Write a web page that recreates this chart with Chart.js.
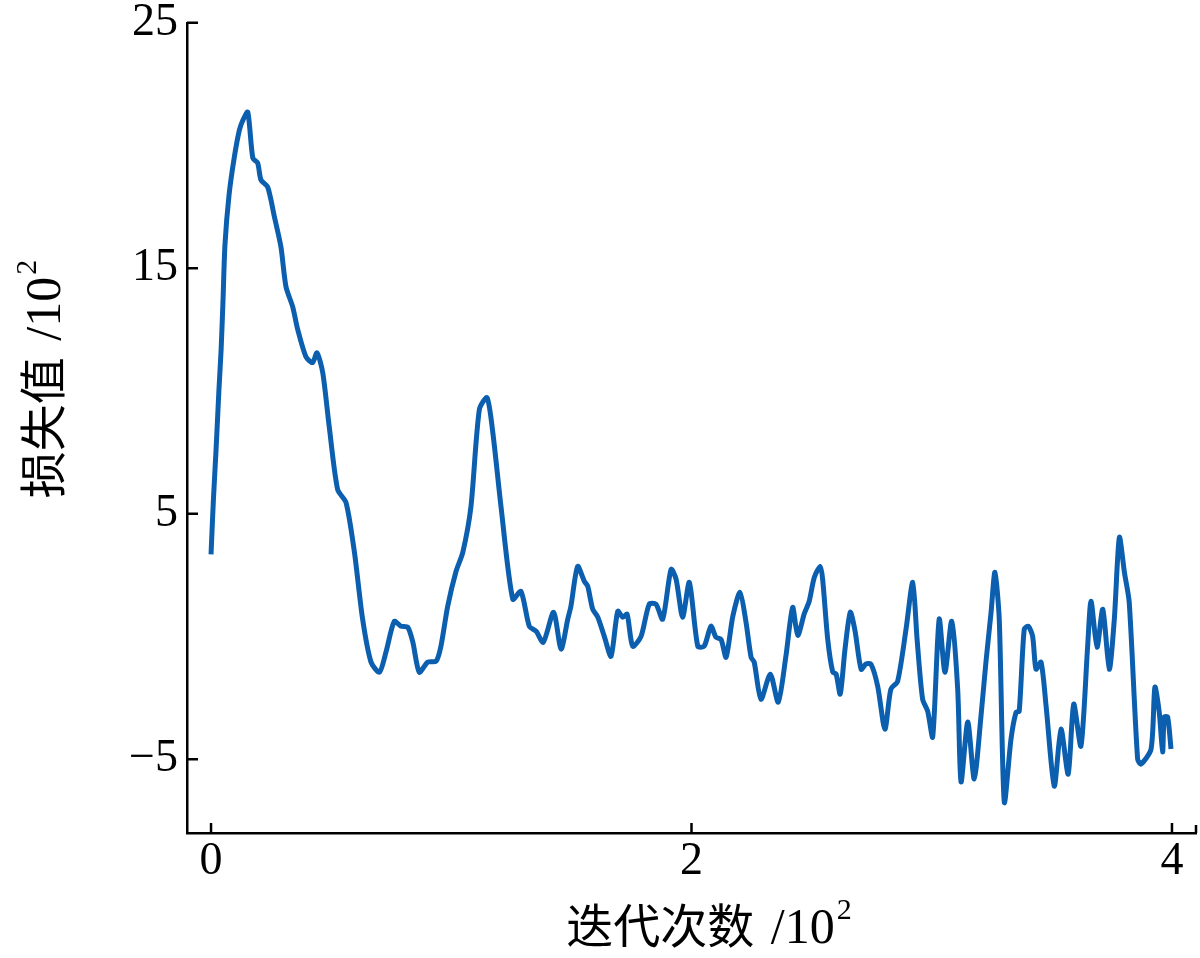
<!DOCTYPE html>
<html>
<head>
<meta charset="utf-8">
<script src="https://cdn.jsdelivr.net/npm/chart.js@4/dist/chart.umd.min.js"></script>
<style>
  body { margin: 0; background: #fff; }
  #wrap { width: 1200px; height: 958px; }
</style>
</head>
<body>
<div id="wrap"><canvas id="myChart" width="1200" height="958"></canvas></div>
<script>
// iterations (x axis shown in units of 10^2)
const iterations = [0,1,2.1,3.3,4.2,5,5.8,7.5,9.7,11.8,
  13.3,15.3,17.4,19.4,20.8,23.6,26.4,29.1,31.2,34,
  36.1,39.5,42.3,44.1,46.5,49.2,52.7,56.2,59.7,63.1,
  66.6,70.1,72.8,76.3,79.1,81.9,84,86.7,90.2,93.7,
  95.7,98.5,102,104.8,108.2,111.7,114.9,117.3,120.7,125.6,
  129,132.5,135.3,138.3,142.6,145.7,148.5,149.8,152.6,155.4,
  156.8,158.9,161,163.7,166.5,169.3,171.4,173.2,175.5,179,
  182.4,185.2,188,191.5,193.6,196.3,199.1,202.6,205.3,208.1,
  210.2,212.3,214.4,217.2,220.2,222.7,224.8,226.1,228.9,232.8,
  236.1,239.3,242.1,244.2,247,249,251.1,253.6,254.6,256.7,
  258.8,260.2,261.9,263.9,266.1,268.1,270.6,272.6,274.7,277.5,
  280.5,283,285.8,289.3,292.1,293.9,296.2,298.3,300.4,303.1,
  305.5,308.3,310.8,312.2,315,317.7,320.5,322.6,324.7,326.3,
  328.1,330.2,333,335.1,336.4,338.5,340.2,342,343.4,345.5,
  347.6,351,353.8,356.8,359.1,362.1,364.9,366.3,368.8,371.2,
  373.9,376,378.1,380.2,382.2,385.7,387.1,391.3,392.9,394.7,
  396.1,396.8,398.2,399.6];

// loss value (units of 10^2)
const lossValues = [3.35,5.59,7.62,10.06,11.69,13.72,15.96,17.99,19.53,20.63,
  21.04,21.36,19.49,19.29,18.60,18.31,17.09,15.87,14.25,13.43,
  12.50,11.40,11.16,11.56,10.75,8.55,5.99,5.46,3.43,0.71,
  -1.04,-1.45,-0.64,0.62,0.42,0.38,-0.23,-1.45,-1.04,-1.00,
  -0.39,1.23,2.66,3.43,5.30,9.25,9.73,8.31,5.30,1.52,
  1.84,0.42,0.22,-0.23,0.99,-0.51,0.71,1.23,2.86,2.25,
  2.05,1.11,0.79,0.01,-0.80,1.03,0.79,0.91,-0.39,0.01,
  1.32,1.32,0.71,2.74,2.33,0.79,2.21,-0.39,-0.39,0.42,
  -0.03,-0.11,-0.84,0.83,1.80,0.58,-0.84,-1.04,-2.55,-1.53,
  -2.67,-0.80,1.19,0.05,0.95,1.44,2.41,2.86,2.33,-0.11,
  -1.45,-1.53,-2.34,-0.51,0.99,0.22,-1.33,-1.12,-1.12,-2.02,
  -3.77,-2.14,-1.82,0.30,2.21,-0.11,-2.55,-3.04,-4.09,0.71,
  -1.45,0.62,-2.14,-5.92,-3.48,-5.80,-3.24,-1.00,0.99,2.62,
  0.71,-6.74,-4.17,-3.08,-3.04,0.30,0.42,0.01,-1.33,-1.04,
  -2.83,-6.09,-3.77,-5.60,-2.75,-4.46,-0.39,1.44,-0.43,1.11,
  -1.33,0.71,4.04,2.62,1.40,-4.99,-5.19,-4.58,-2.06,-3.08,
  -4.70,-3.28,-3.28,-4.58];

const xTicks = [0, 200, 400];
const yTicks = [-5, 5, 15, 25];

const xTitle = '迭代次数';
const yTitle = '损失值';
const unitText = ' /10';
const unitSup = '2';

const points = iterations.map((x, i) => ({x: x, y: lossValues[i]}));

const serif = '"Liberation Serif", "Times New Roman", serif';
const cjk = '"Noto Sans CJK SC", sans-serif';

// inward tick marks + axis titles with superscript
const axisDecor = {
  id: 'axisDecor',
  afterDraw(chart) {
    const ctx = chart.ctx;
    const xs = chart.scales.x, ys = chart.scales.y;
    const area = chart.chartArea;
    ctx.save();
    ctx.strokeStyle = '#000';
    ctx.lineWidth = 2.5;
    ctx.beginPath();
    yTicks.forEach(v => {
      const py = ys.getPixelForValue(v);
      ctx.moveTo(area.left, py);
      ctx.lineTo(area.left + 11, py);
    });
    xTicks.forEach(v => {
      const px = xs.getPixelForValue(v);
      ctx.moveTo(px, area.bottom);
      ctx.lineTo(px, area.bottom - 10);
    });
    ctx.moveTo(area.right, area.bottom);
    ctx.lineTo(area.right, area.bottom - 8);
    ctx.stroke();

    // titles
    function drawTitle(cx, cy, rot, cn) {
      ctx.save();
      ctx.translate(cx, cy);
      ctx.rotate(rot);
      ctx.fillStyle = '#000';
      ctx.textBaseline = 'alphabetic';
      ctx.textAlign = 'left';
      const fCn = '47px ' + cjk;
      const fUnit = '50px ' + serif;
      const fSup = '30px ' + serif;
      ctx.font = fCn; const w1 = ctx.measureText(cn).width;
      ctx.font = fUnit; const w2 = ctx.measureText(unitText).width;
      ctx.font = fSup; const w3 = ctx.measureText(unitSup).width;
      let x0 = -(w1 + w2 + w3) / 2;
      ctx.font = fCn; ctx.fillText(cn, x0, 16);
      ctx.font = fUnit; ctx.fillText(unitText, x0 + w1 + 4, 16);
      ctx.font = fSup; ctx.fillText(unitSup, x0 + w1 + w2 + 6, -8);
      ctx.restore();
    }
    drawTitle(706, 927, 0, xTitle);
    drawTitle(44, 382, -Math.PI / 2, yTitle);
    ctx.restore();
  }
};

new Chart('myChart', {
  type: 'line',
  data: {
    datasets: [{
      data: points,
      borderColor: '#0b5fae',
      borderWidth: 5,
      pointRadius: 0,
      tension: 0.25,
      fill: false
    }]
  },
  options: {
    responsive: false,
    devicePixelRatio: 1,
    animation: false,
    layout: {padding: {top: 20, right: 4, left: 0, bottom: 0}},
    plugins: {legend: {display: false}, tooltip: {enabled: false}},
    scales: {
      x: {
        type: 'linear',
        min: -10,
        max: 410,
        afterFit: s => { s.height = 125; },
        afterBuildTicks: s => { s.ticks = xTicks.map(v => ({value: v})); },
        grid: {display: false, drawTicks: false},
        border: {display: true, color: '#000', width: 2.5},
        ticks: {
          color: '#000',
          padding: 1,
          maxRotation: 0,
          font: {family: serif, size: 46, lineHeight: 1.2},
          callback: v => String(v / 100)
        }
      },
      y: {
        min: -8,
        max: 25,
        afterFit: s => { s.width = 187; },
        afterBuildTicks: s => { s.ticks = yTicks.map(v => ({value: v})); },
        grid: {display: false, drawTicks: false},
        border: {display: true, color: '#000', width: 2.5},
        ticks: {
          color: '#000',
          padding: 9,
          font: {family: serif, size: 46, lineHeight: 0.6},
          callback: v => String(v).replace('-', '\u2212')
        }
      }
    }
  },
  plugins: [axisDecor]
});
</script>
</body>
</html>
